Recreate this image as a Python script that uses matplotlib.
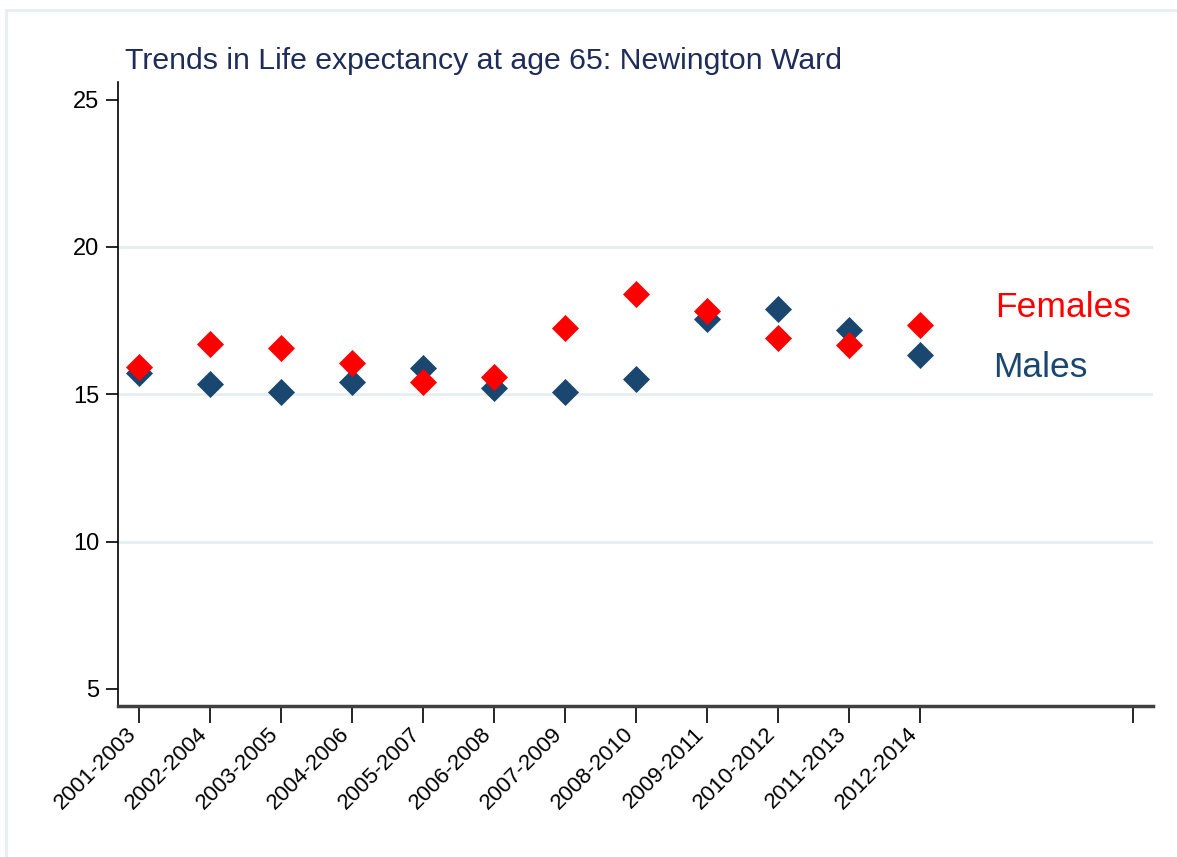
import matplotlib
matplotlib.use("Agg")
import matplotlib.pyplot as plt
from matplotlib.patches import Rectangle
from matplotlib.transforms import ScaledTranslation

# periods (3-year rolling)
periods = ['2001-2003', '2002-2004', '2003-2005', '2004-2006', '2005-2007',
           '2006-2008', '2007-2009', '2008-2010', '2009-2011', '2010-2012',
           '2011-2013', '2012-2014']
# life expectancy at 65
males = [15.72, 15.36, 15.07, 15.42, 15.90, 15.20, 15.07, 15.53,
         17.55, 17.91, 17.18, 16.33]
females = [15.93, 16.70, 16.58, 16.06, 15.41, 15.60, 17.26, 18.40,
           17.82, 16.92, 16.68, 17.35]
y_ticks = [5, 10, 15, 20, 25]

navy = '#1a476f'
red = '#ff0000'

plt.rcParams['font.family'] = ['Liberation Sans', 'DejaVu Sans']

fig = plt.figure(figsize=(11.77, 8.57), dpi=100)
# light outer frame
fig.patches.append(Rectangle((6 / 1177, -0.01), 1.02, 1 - 10 / 857 + 0.01,
                             transform=fig.transFigure, fill=False,
                             edgecolor='#e6eeef', linewidth=2))

ax = fig.add_axes([118 / 1177, 1 - 706 / 857, (1153 - 118) / 1177, (706 - 82) / 857])

x = list(range(1, len(periods) + 1))
ax.scatter(x, males, marker='D', s=190, color=navy, linewidths=0, zorder=3)
ax.scatter(x, females, marker='D', s=190, color=red, linewidths=0, zorder=4)

ax.text(13.06, 17.96, 'Females', color=red, fontsize=25.5, va='center', ha='left')
ax.text(13.03, 15.92, 'Males', color=navy, fontsize=25.5, va='center', ha='left')

ax.set_xlim(0.70, 15.28)
ax.set_ylim(4.42, 25.6)
ax.set_xticks(x + [15])
ax.set_xticklabels(periods + [''], rotation=45, ha='right', va='center',
                   rotation_mode='anchor')
ax.set_yticks(y_ticks)
ax.set_yticklabels([str(v) for v in y_ticks])
ax.tick_params(axis='x', length=12, width=1.2, pad=6, labelsize=16)
ax.tick_params(axis='y', length=9, width=1.2, pad=4.5, labelsize=17)

# nudge the rotated labels so their ends sit under the ticks
shift = ScaledTranslation(-0.06, 0, fig.dpi_scale_trans)
for lab in ax.get_xticklabels():
    lab.set_transform(lab.get_transform() + shift)

for v in [10, 15, 20]:
    ax.axhline(v, color='#e6eeef', linewidth=2, zorder=1)

ax.spines['top'].set_visible(False)
ax.spines['right'].set_visible(False)
ax.spines['left'].set_linewidth(1.2)
ax.spines['bottom'].set_linewidth(2.5)
ax.spines['bottom'].set_color('#404040')

fig.text(125 / 1177, 1 - 61 / 857, 'Trends in Life expectancy at age 65: Newington Ward',
         fontsize=21.8, color='#1e2c5a', va='center', ha='left')

fig.savefig('out.png', dpi=100)
